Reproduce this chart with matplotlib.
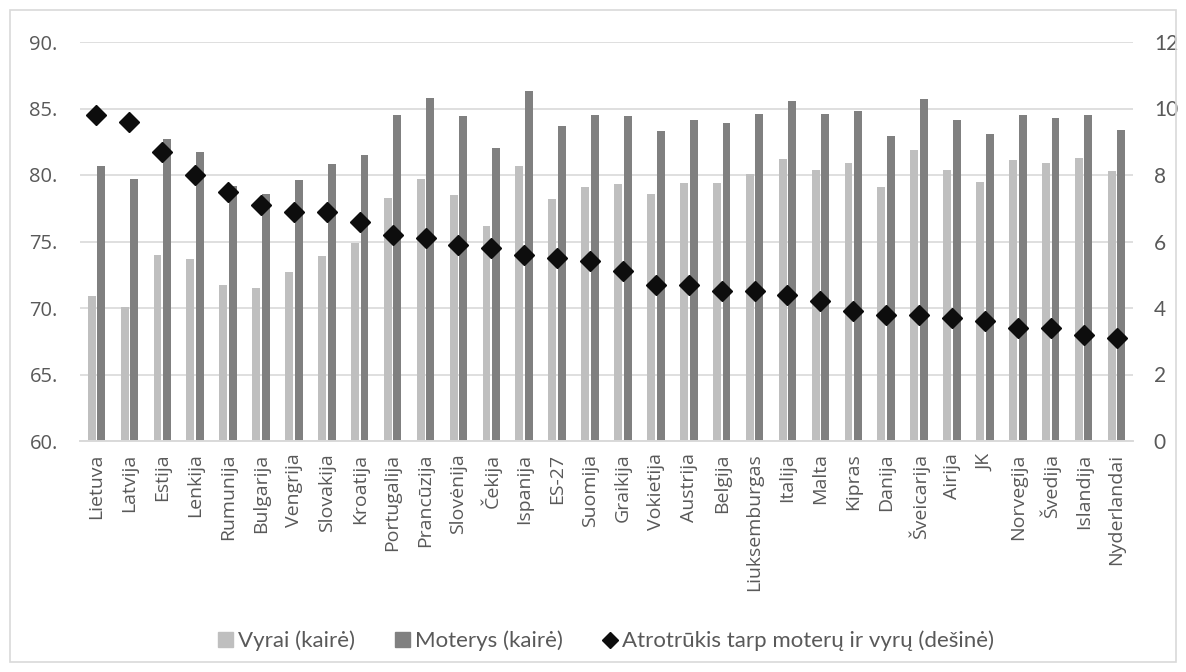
import numpy as np
import matplotlib.pyplot as plt
from matplotlib.patches import Rectangle
from matplotlib.lines import Line2D

# Life expectancy at birth by country, men vs women, and the gap between them
countries = ['Lietuva', 'Latvija', 'Estija', 'Lenkija', 'Rumunija', 'Bulgarija', 'Vengrija',
             'Slovakija', 'Kroatija', 'Portugalija', 'Prancūzija', 'Slovėnija', 'Čekija',
             'Ispanija', 'ES-27', 'Suomija', 'Graikija', 'Vokietija', 'Austrija', 'Belgija',
             'Liuksemburgas', 'Italija', 'Malta', 'Kipras', 'Danija', 'Šveicarija', 'Airija',
             'JK', 'Norvegija', 'Švedija', 'Islandija', 'Nyderlandai']
men = [70.9, 70.1, 74.0, 73.7, 71.7, 71.5, 72.7, 73.9, 74.9, 78.3, 79.7, 78.5, 76.2,
       80.7, 78.2, 79.1, 79.3, 78.6, 79.4, 79.4, 80.1, 81.2, 80.4, 80.9, 79.1, 81.9,
       80.4, 79.5, 81.1, 80.9, 81.3, 80.3]
women = [80.7, 79.7, 82.7, 81.7, 79.2, 78.6, 79.6, 80.8, 81.5, 84.5, 85.8, 84.4, 82.0,
         86.3, 83.7, 84.5, 84.4, 83.3, 84.1, 83.9, 84.6, 85.6, 84.6, 84.8, 82.9, 85.7,
         84.1, 83.1, 84.5, 84.3, 84.5, 83.4]
gap = [9.8, 9.6, 8.7, 8.0, 7.5, 7.1, 6.9, 6.9, 6.6, 6.2, 6.1, 5.9, 5.8, 5.6, 5.5, 5.4,
       5.1, 4.7, 4.7, 4.5, 4.5, 4.4, 4.2, 3.9, 3.8, 3.8, 3.7, 3.6, 3.4, 3.4, 3.2, 3.1]

plt.rcParams['font.family'] = ['Lato', 'DejaVu Sans']

c_men = '#bfbfbf'
c_women = '#808080'
c_grid = '#d9d9d9'
c_text = '#595959'

fig = plt.figure(figsize=(11.86, 6.72), dpi=100)
fig.patches.append(Rectangle((10 / 1186, 10 / 672), 1166 / 1186, 652 / 672,
                             transform=fig.transFigure, fill=False,
                             edgecolor=c_grid, linewidth=1.2))
ax = fig.add_axes([80 / 1186, 1 - 441 / 672, (1133 - 80) / 1186, (441 - 42) / 672])
ax2 = ax.twinx()

x = np.arange(len(countries))
w = 0.24
ax.bar(x - 0.146, np.array(men) - 60, w, bottom=60, color=c_men, zorder=2)
ax.bar(x + 0.146, np.array(women) - 60, w, bottom=60, color=c_women, zorder=2)
ax2.plot(x, gap, linestyle='none', marker='D', markersize=10, color='#0d0d0d', zorder=3)

ax.set_ylim(60, 90)
ax.set_yticks(np.arange(60, 91, 5))
ax.set_yticklabels([f'{v}.' for v in range(60, 91, 5)])
ax2.set_ylim(0, 12)
ax2.set_yticks(np.arange(0, 13, 2))
ax.set_xlim(-0.5, len(countries) - 0.5)
ax.set_xticks(x)
ax.set_xticklabels(countries, rotation=90)

ax.grid(axis='y', color=c_grid, linewidth=1.2, zorder=0)
for a in (ax, ax2):
    for s in ['top', 'left', 'right']:
        a.spines[s].set_visible(False)
    a.spines['bottom'].set_color(c_grid)
    a.spines['bottom'].set_linewidth(1.2)
    a.tick_params(length=0, labelcolor=c_text)
ax.tick_params(axis='x', pad=9, labelsize=14, labelfontfamily='Open Sans')
ax.tick_params(axis='y', pad=16, labelsize=14.5, labelfontfamily='Open Sans')
ax2.tick_params(axis='y', pad=15, labelsize=15)

handles = [Rectangle((0, 0), 1, 1, color=c_men),
           Rectangle((0, 0), 1, 1, color=c_women),
           Line2D([], [], linestyle='none', marker='D', markersize=8, color='#0d0d0d')]
labels = ['Vyrai (kairė)', 'Moterys (kairė)', 'Atrotrūkis tarp moterų ir vyrų (dešinė)']
fig.legend(handles, labels, loc='center', bbox_to_anchor=(606 / 1186, 1 - 641 / 672),
           ncol=3, frameon=False, fontsize=16, handlelength=0.7, handleheight=0.7,
           handletextpad=0.2, columnspacing=1.8, labelcolor=c_text)

fig.savefig('out.png', dpi=100)
